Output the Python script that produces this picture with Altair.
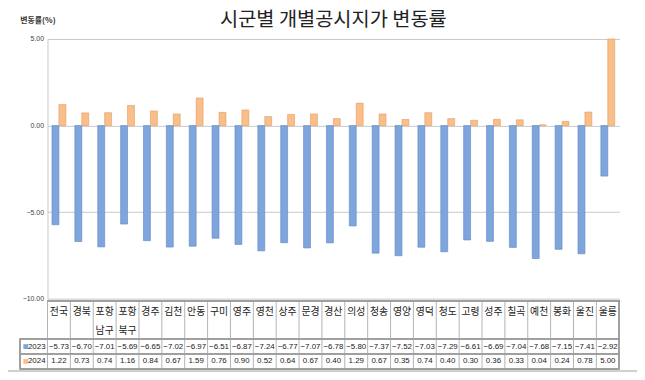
import altair as alt
import pandas as pd

cats = ["전국", "경북", "포항\n남구", "포항\n북구", "경주", "김천", "안동", "구미", "영주", "영천",
        "상주", "문경", "경산", "의성", "청송", "영양", "영덕", "청도", "고령", "성주",
        "칠곡", "예천", "봉화", "울진", "울릉"]
v2023 = [-5.73, -6.70, -7.01, -5.69, -6.65, -7.02, -6.97, -6.51, -6.87, -7.24, -6.77, -7.07,
         -6.78, -5.80, -7.37, -7.52, -7.03, -7.29, -6.61, -6.69, -7.04, -7.68, -7.15, -7.41, -2.92]
v2024 = [1.22, 0.73, 0.74, 1.16, 0.84, 0.67, 1.59, 0.76, 0.90, 0.52, 0.64, 0.67,
         0.40, 1.29, 0.67, 0.35, 0.74, 0.40, 0.30, 0.36, 0.33, 0.04, 0.24, 0.78, 5.00]
years = ["2023", "2024"]
yticks = [5, 0, -5, -10]

BLUE = "#7ea6dc"
ORANGE = "#f9be8a"
FONT = "Noto Sans CJK KR"
NUMF = "Liberation Sans"
W, H = 579, 263

rows = []
for c, a, b in zip(cats, v2023, v2024):
    rows.append({"cat": c, "year": "2023", "value": a})
    rows.append({"cat": c, "year": "2024", "value": b})
df = pd.DataFrame(rows)
cat_df = pd.DataFrame({"cat": cats})
year_df = pd.DataFrame({"year": years})

xs = alt.Scale(domain=cats, paddingInner=0, paddingOuter=0)
color = alt.Color("year:N", scale=alt.Scale(domain=years, range=[BLUE, ORANGE]), legend=None)
row_y = alt.Y("year:N", scale=alt.Scale(type="point", domain=years, range=[311.5, 326.5], padding=0),
              axis=None)

bars = alt.Chart(df).mark_bar(strokeWidth=0.6).encode(
    x=alt.X("cat:N", sort=cats, scale=xs, axis=None),
    xOffset=alt.XOffset("year:N", scale=alt.Scale(domain=years, paddingInner=0, paddingOuter=0.65)),
    y=alt.Y("value:Q", scale=alt.Scale(domain=[-10, 5], nice=False),
            axis=alt.Axis(values=yticks, format=".2f", labelFontSize=7, labelColor="#444",
                          labelFont=NUMF, ticks=False, domainColor="#c8c8c8", grid=True,
                          gridColor="#c8c8c8", labelPadding=4,
                          title="변동률(%)", titleAngle=0, titleX=-28, titleY=-19,
                          titleAlign="left", titleBaseline="middle", titleFontSize=8,
                          titleFont=FONT, titleFontWeight="bold", titleColor="#333")),
    y2=alt.datum(0),
    color=color,
    stroke=alt.Stroke("year:N", scale=alt.Scale(domain=years, range=["#5a86c2", "#e09a5c"]), legend=None),
)

# table grid
GRID = dict(color="#a0a0a0", strokeWidth=0.8)
vlines = alt.Chart(cat_df).mark_rule(**GRID).encode(
    x=alt.X("cat:N", sort=cats, scale=xs, bandPosition=0),
    y=alt.value(265), y2=alt.value(334))
right_line = alt.Chart(cat_df).mark_rule(**GRID).encode(
    x=alt.value(W), y=alt.value(265), y2=alt.value(334))
left_line = alt.Chart(cat_df).mark_rule(**GRID).encode(
    x=alt.value(-28), y=alt.value(304), y2=alt.value(334))
hl_top = alt.Chart(cat_df).mark_rule(**GRID).encode(
    x=alt.value(0), x2=alt.value(W), y=alt.value(265))
hl_rows = [alt.Chart(cat_df).mark_rule(**GRID).encode(
    x=alt.value(-28), x2=alt.value(W), y=alt.value(yy)) for yy in (304, 319, 334)]

names = alt.Chart(cat_df).mark_text(font=FONT, fontSize=10, color="#222", lineBreak="\n",
                                    lineHeight=19, baseline="middle").encode(
    x=alt.X("cat:N", sort=cats, scale=xs),
    y=alt.value(277), text="cat:N")

vals = alt.Chart(df).mark_text(font=NUMF, fontSize=8, color="#222", baseline="middle").encode(
    x=alt.X("cat:N", sort=cats, scale=xs),
    y=row_y,
    text=alt.Text("value:Q", format=".2f"))

keys = alt.Chart(year_df).mark_square(size=24, opacity=1).encode(
    x=alt.value(-22), y=row_y, color=color)
keytext = alt.Chart(year_df).mark_text(font=NUMF, fontSize=8, color="#222", align="right",
                                       baseline="middle").encode(
    x=alt.value(-2), y=row_y, text="year:N")

border = alt.Chart(cat_df).mark_rect(fill=None, stroke="#cfcfcf", strokeWidth=1, cornerRadius=4).encode(
    x=alt.value(-45), x2=alt.value(634), y=alt.value(-34), y2=alt.value(336))

chart = alt.layer(border, bars, vlines, right_line, left_line, hl_top, *hl_rows,
                  names, vals, keys, keytext).resolve_scale(y="independent").properties(
    width=W, height=H,
    title=alt.TitleParams("시군별 개별공시지가 변동률", fontSize=20, font=FONT, fontWeight="normal",
                          color="#222", anchor="middle", offset=-25),
    autosize=alt.AutoSizeParams(type="none"),
    padding={"left": 40, "top": 29, "right": 18, "bottom": 80},
).configure_view(stroke=None)

chart.save("out.html", embed_options={"renderer": "svg", "actions": False})
